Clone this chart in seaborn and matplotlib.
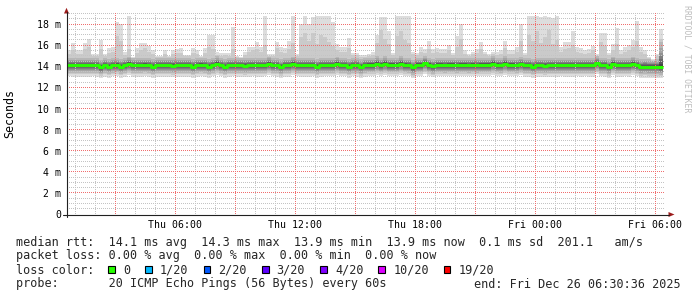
import numpy as np
import pandas as pd
import matplotlib
matplotlib.use("Agg")
import matplotlib.pyplot as plt
import seaborn as sns
from matplotlib.patches import Rectangle, Polygon

# ---------------- data ----------------
start_hour = 0.6      # first 12-minute bin: Thu 00:36
step_hours = 0.2      # 12 minutes per consolidated bin

ping_max = [
    15.5, 16.2, 15.5, 15.5, 16.2, 16.55, 15.2, 15.2, 16.5, 15.2,
    15.7, 15.8, 18.2, 18.0, 15.4, 18.75, 14.9, 15.7, 16.2, 16.2,
    15.9, 15.5, 15.0, 15.0, 15.5, 15.0, 15.5, 15.6, 15.7, 15.1,
    15.1, 15.7, 15.5, 15.0, 15.7, 17.0, 17.0, 15.4, 15.3, 15.3,
    15.3, 17.7, 15.0, 14.9, 15.4, 15.8, 15.8, 16.3, 15.8, 18.75,
    15.2, 15.2, 16.3, 15.8, 15.7, 16.4, 18.75, 15.2, 18.0, 18.75,
    18.0, 18.7, 18.75, 18.75, 18.75, 18.75, 18.2, 16.1, 15.8, 15.8,
    16.7, 15.3, 15.3, 15.1, 15.1, 15.2, 15.4, 17.0, 18.7, 18.7,
    17.3, 15.3, 18.75, 18.75, 18.75, 18.75, 15.4, 15.3, 15.8, 15.6,
    16.4, 15.6, 15.7, 15.6, 15.6, 16.0, 15.3, 16.9, 18.0, 15.5,
    15.2, 15.4, 15.6, 16.3, 15.4, 15.2, 15.4, 15.4, 15.5, 16.4,
    15.5, 15.5, 15.8, 18.0, 15.3, 18.75, 18.75, 18.75, 18.7, 18.75,
    18.65, 18.6, 18.75, 15.8, 16.3, 16.3, 17.3, 15.8, 15.7, 15.5,
    15.6, 15.9, 15.2, 17.2, 17.2, 15.3, 16.1, 17.65, 15.5, 15.8,
    16.0, 16.5, 18.3, 15.8, 15.5, 14.9, 14.6, 15.2, 17.5,
]

ping_p19 = [
    15.2, 15.5, 15.2, 15.2, 15.6, 15.8, 15.0, 15.0, 15.6, 15.0,
    15.3, 15.4, 16.9, 16.4, 15.1, 15.6, 14.8, 15.3, 15.5, 15.7,
    15.4, 15.2, 14.9, 14.9, 15.2, 14.9, 15.2, 15.3, 15.3, 15.0,
    15.0, 15.3, 15.2, 14.9, 15.3, 15.8, 15.6, 15.1, 15.0, 15.1,
    15.0, 15.6, 14.9, 14.8, 15.1, 15.4, 15.5, 15.6, 15.4, 16.0,
    15.0, 15.0, 15.7, 15.4, 15.3, 15.6, 16.2, 15.0, 16.8, 17.2,
    16.4, 17.2, 16.1, 17.0, 16.8, 16.3, 15.9, 15.5, 15.4, 15.4,
    15.7, 15.1, 15.1, 14.9, 14.9, 15.0, 15.1, 16.2, 17.4, 16.6,
    16.1, 15.1, 16.9, 17.3, 16.5, 16.2, 15.2, 15.1, 15.4, 15.3,
    15.6, 15.3, 15.4, 15.3, 15.3, 15.5, 15.1, 15.8, 16.6, 15.2,
    15.0, 15.2, 15.3, 15.6, 15.2, 15.0, 15.2, 15.1, 15.2, 15.7,
    15.2, 15.2, 15.4, 16.4, 15.1, 17.0, 16.4, 17.3, 16.2, 16.8,
    17.4, 16.1, 16.5, 15.4, 15.6, 15.7, 16.0, 15.4, 15.3, 15.2,
    15.3, 15.5, 15.0, 16.3, 15.9, 15.1, 15.5, 16.1, 15.2, 15.4,
    15.5, 15.8, 16.4, 15.4, 15.2, 14.8, 14.5, 15.0, 16.6,
]

median_rtt = [
    14.10, 14.08, 14.08, 14.08, 14.08, 14.08, 14.10, 14.08, 13.94, 14.08,
    13.98, 14.10, 14.12, 13.98, 14.08, 14.22, 14.08, 14.08, 14.08, 14.12,
    14.08, 13.98, 14.08, 14.08, 14.08, 14.08, 14.06, 14.08, 14.08, 14.08,
    14.08, 13.98, 14.08, 14.12, 14.08, 13.98, 14.10, 14.24, 14.10, 13.98,
    14.08, 14.10, 14.08, 14.08, 14.06, 14.08, 14.10, 14.08, 14.08, 14.10,
    14.22, 14.10, 14.08, 13.96, 14.08, 14.08, 14.22, 14.10, 14.08, 14.08,
    14.08, 14.10, 13.98, 14.08, 14.10, 14.10, 14.10, 14.22, 14.10, 14.10,
    13.98, 14.10, 14.08, 13.96, 14.08, 14.12, 14.12, 14.24, 14.12, 14.24,
    14.12, 14.12, 14.12, 14.24, 14.12, 14.10, 13.92, 14.12, 14.12, 14.30,
    14.12, 14.00, 14.12, 14.12, 14.10, 14.12, 14.12, 14.10, 14.12, 14.12,
    14.10, 14.12, 14.10, 14.12, 14.12, 14.12, 14.24, 14.12, 14.10, 14.24,
    14.12, 14.12, 14.10, 14.20, 14.08, 14.08, 13.98, 14.08, 14.08, 14.06,
    14.08, 14.08, 14.08, 14.10, 14.08, 14.08, 14.08, 14.10, 14.08, 14.10,
    14.08, 14.08, 14.28, 14.10, 14.08, 13.96, 14.22, 14.08, 14.08, 14.10,
    14.08, 14.22, 14.10, 13.96, 13.98, 13.96, 13.96, 13.96, 13.92,
]

# typical offsets (ms) of the sorted pings 1..18 around the median
rank_offsets_low = [-1.05, -0.85, -0.70, -0.56, -0.45, -0.34, -0.25, -0.17, -0.10, -0.04]
rank_offsets_high = [0.04, 0.09, 0.15, 0.22, 0.30, 0.40, 0.52, 0.70]
wide_bins = [148]
wide_scale = [3.4]

x_tick_hours = [6, 12, 18, 24, 30]
x_tick_labels = ["Thu 06:00", "Thu 12:00", "Thu 18:00", "Fri 00:00", "Fri 06:00"]
y_tick_values = [0, 2, 4, 6, 8, 10, 12, 14, 16, 18]
y_tick_labels = ["0", "2 m", "4 m", "6 m", "8 m", "10 m", "12 m", "14 m", "16 m", "18 m"]

loss_labels = ["0", "1/20", "2/20", "3/20", "4/20", "10/20", "19/20"]
loss_colors = ["#26ff00", "#00b8ff", "#0059ff", "#5e00ff", "#7e00ff", "#dd00ff", "#ff0000"]

line_rtt = "median rtt:  14.1 ms avg  14.3 ms max  13.9 ms min  13.9 ms now  0.1 ms sd  201.1   am/s"
line_loss = "packet loss: 0.00 % avg  0.00 % max  0.00 % min  0.00 % now"
line_color_title = "loss color:"
line_probe = "probe:       20 ICMP Echo Pings (56 Bytes) every 60s"
line_end = "end: Fri Dec 26 06:30:36 2025"
watermark = "RRDTOOL / TOBI OETIKER"

# ---------------- build smoke table ----------------
n = len(median_rtt)
hours = start_hour + step_hours * np.arange(n)
med = np.array(median_rtt)
low = med[:, None] + np.array(rank_offsets_low)[None, :]
high_off = np.tile(np.array(rank_offsets_high), (n, 1))
for b, s in zip(wide_bins, wide_scale):
    high_off[b] *= s
high = med[:, None] + high_off
pings = np.column_stack([low, high, np.array(ping_p19), np.array(ping_max)])
pings = np.sort(pings, axis=1)   # sorted pings 1..20 per bin

df = pd.DataFrame({"hour": hours, "median": med})

# ---------------- style ----------------
sns.set_style("white")
plt.rcParams["font.family"] = ["DejaVu Sans Mono"]

W, H = 697, 297
fig = plt.figure(figsize=(W / 100, H / 100), dpi=100)
fig.patch.set_facecolor("white")

# pixel-aligned plot area
x0_px, x1_px = 67, 665
y0_px, y1_px = 214, 12
ax = fig.add_axes([x0_px / W, 1 - y0_px / H, (x1_px - x0_px) / W, (y0_px - y1_px) / H])
ax.set_facecolor("white")
px_per_hour = 20.0
px_per_ms = 10.55
hour_at_x0 = 6 - (175.3 - x0_px) / px_per_hour
xmin, xmax = hour_at_x0, hour_at_x0 + (x1_px - x0_px) / px_per_hour
ymin, ymax = 0.0, (y0_px - y1_px) / px_per_ms

# smoke bands
x_ext = np.append(hours, hours[-1] + step_hours)
for i in range(10):
    lo = pings[:, i]
    hi = pings[:, 19 - i]
    g = int(190 / 10 * (10 - (i + 1))) + 50
    col = "#%02x%02x%02x" % (g, g, g)
    ax.fill_between(x_ext, np.append(lo, lo[-1]), np.append(hi, hi[-1]),
                    step="post", color=col, linewidth=0, zorder=2)

# dotted grid as a pixel overlay (1 px on / 1 px off), above the smoke
gw, gh = x1_px - x0_px, y0_px - y1_px
grid_img = np.zeros((gh, gw, 4), dtype=np.uint8)
minor_rgba = (196, 196, 196, 255)
major_rgba = (240, 110, 110, 255)

def col_of(h):
    return int(np.floor((h - xmin) * px_per_hour))

def row_of(v):
    return int(np.floor((ymax - v) * px_per_ms))

minor_rows = [row_of(v) for v in np.arange(0.5, 19.01, 0.5) if abs(v / 2 - round(v / 2)) > 1e-6]
major_rows = [row_of(v) for v in y_tick_values[1:]]
minor_cols = [col_of(h) for h in range(1, 31) if h % 3 != 0]
major_cols = [col_of(h) for h in range(3, 31, 3)]

for r in minor_rows:
    if 0 <= r < gh:
        grid_img[r, 0::2] = minor_rgba
for c in minor_cols:
    if 0 <= c < gw:
        grid_img[1::2, c] = minor_rgba
for r in major_rows:
    if 0 <= r < gh:
        grid_img[r, 0::2] = major_rgba
for c in major_cols:
    if 0 <= c < gw:
        grid_img[1::2, c] = major_rgba

ax.imshow(grid_img, extent=(xmin, xmax, ymin, ymax), origin="upper",
          aspect="auto", interpolation="nearest", resample=False, zorder=3)

# median line
sns.lineplot(data=df, x="hour", y="median", ax=ax,
             estimator=None, drawstyle="steps-post", color=loss_colors[0],
             linewidth=2.1, zorder=5)
ax.plot([hours[-1], hours[-1] + step_hours], [med[-1], med[-1]],
        color=loss_colors[0], lw=2.1, zorder=5, solid_capstyle="butt")

ax.set_xlim(xmin, xmax)
ax.set_ylim(ymin, ymax)
for s in ax.spines.values():
    s.set_visible(False)

# ticks
ax.set_yticks(y_tick_values)
ax.set_yticklabels(y_tick_labels)
ax.set_yticks(np.arange(0, 19.01, 0.5), minor=True)
maj_x = list(range(3, 31, 3))
ax.set_xticks(maj_x)
ax.set_xticklabels([x_tick_labels[x_tick_hours.index(h)] if h in x_tick_hours else "" for h in maj_x])
ax.set_xticks(range(1, 31), minor=True)
ax.tick_params(axis="both", which="major", direction="out", length=2.2, width=0.7,
               color="#303030", labelsize=7.1, labelcolor="black", pad=2.2)
ax.tick_params(axis="both", which="minor", direction="out", length=1.4, width=0.7,
               color="#303030")
ax.set_xlabel("")
ax.set_ylabel("")

# axes lines and arrows (pixel positions)
def fx(px):
    return px / W
def fy(py):
    return 1 - py / H

axis_col = "#202020"
arrow_col = "#9c1c1c"
fig.add_artist(plt.Line2D([fx(63), fx(669)], [fy(y0_px + 0.5), fy(y0_px + 0.5)], color=axis_col, lw=0.8))
fig.add_artist(plt.Line2D([fx(x0_px - 0.5), fx(x0_px - 0.5)], [fy(217), fy(12)], color=axis_col, lw=0.8))
fig.add_artist(Polygon([(fx(64.0), fy(13.5)), (fx(69.0), fy(13.5)), (fx(66.5), fy(7.8))],
                       closed=True, transform=fig.transFigure, color=arrow_col, lw=0))
fig.add_artist(Polygon([(fx(668.5), fy(212.0)), (fx(668.5), fy(217.0)), (fx(674.5), fy(214.5))],
                       closed=True, transform=fig.transFigure, color=arrow_col, lw=0))

# y label
fig.text(fx(10), fy(113.5), "Seconds", rotation=90, ha="center", va="center",
         fontsize=8.4, color="black")

# watermark
fig.text(fx(686.5), fy(59), watermark, rotation=270, ha="center", va="center",
         fontsize=5.9, color="#bdbdbd")

# legend texts
fs = 8.5
cw = 7.1
fig.text(fx(16), fy(245.7), line_rtt, fontsize=fs, va="baseline", ha="left")
fig.text(fx(16), fy(259.5), line_loss, fontsize=fs, va="baseline", ha="left")
fig.text(fx(16), fy(273.5), line_color_title, fontsize=fs, va="baseline", ha="left")
fig.text(fx(16), fy(287.5), line_probe, fontsize=fs, va="baseline", ha="left")
fig.text(fx(681), fy(287.5), line_end, fontsize=fs, va="baseline", ha="right")

sq_x = 108.3
for lab, colr in zip(loss_labels, loss_colors):
    fig.add_artist(Rectangle((fx(sq_x), fy(273.0)), 6.6 / W, 6.6 / H,
                             transform=fig.transFigure, facecolor=colr,
                             edgecolor="black", lw=0.8))
    lx = sq_x + 14.7
    fig.text(fx(lx), fy(273.5), lab, fontsize=fs, va="baseline", ha="left")
    sq_x = lx + len(lab) * cw + 15.2

fig.savefig("out.png", dpi=100, facecolor="white")
